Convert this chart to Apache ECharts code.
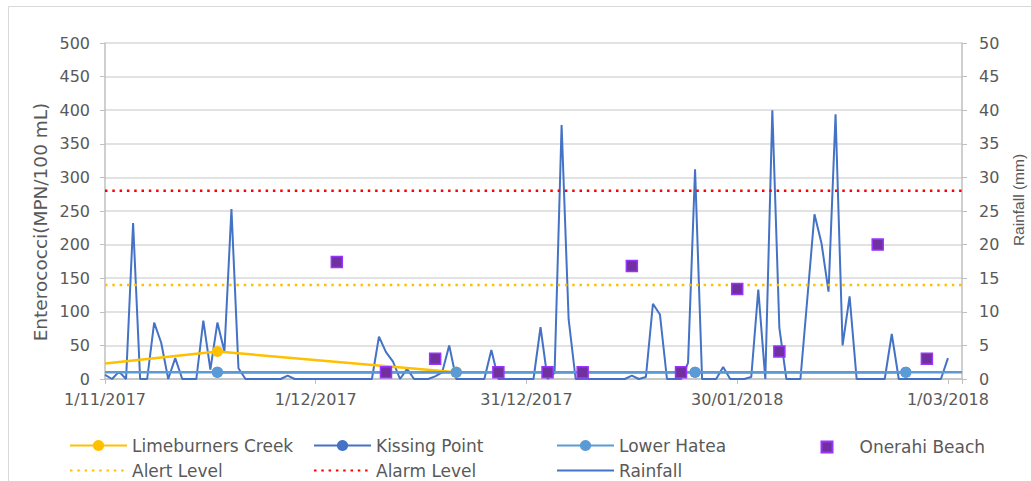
<!DOCTYPE html>
<html>
<head>
<meta charset="utf-8">
<script src="https://cdn.jsdelivr.net/npm/echarts@6/dist/echarts.min.js"></script>
<style>
html,body{margin:0;padding:0;background:#fff;}
#chart{width:1031px;height:481px;}
</style>
</head>
<body>
<div id="chart"></div>
<script>
// ---- data ----
// x values are days since 1/11/2017
const xTickLabels = ['1/11/2017', '1/12/2017', '31/12/2017', '30/01/2018', '1/03/2018'];
const rainfall = [
  0.6, 0, 1.1, 0, 23.2, 0, 0, 8.4, 5.4, 0,
  3.1, 0, 0, 0, 8.7, 1.4, 8.4, 4.1, 25.3, 1.6,
  0, 0, 0, 0, 0, 0, 0.5, 0, 0, 0,
  0, 0, 0, 0, 0, 0, 0, 0, 0, 6.3,
  4.0, 2.6, 0, 1.5, 0, 0, 0, 0.4, 1.0, 5.0,
  0, 0, 0, 0, 0, 4.3, 0, 0, 0, 0,
  0, 0, 7.7, 0, 0.9, 37.8, 8.9, 0, 0, 0,
  0, 0, 0, 0, 0, 0.5, 0, 0.3, 11.2, 9.6,
  0, 0, 0, 2.4, 31.2, 0, 0, 0, 1.8, 0,
  0, 0, 0.3, 13.3, 0, 40.0, 7.6, 0, 0, 0,
  12.2, 24.5, 20.2, 13.0, 39.4, 5.0, 12.3, 0, 0, 0,
  0, 0, 6.7, 0, 0, 0, 0, 0, 0, 0,
  3.1
];
const limeburnersDays = [0, 16, 50];
const limeburnersVals = [23, 41, 10];
const kissingDays = [16, 50, 84, 114];
const kissingVals = [10, 10, 10, 10];
const lowerHateaDays = [0, 16, 50, 84, 114, 122];
const lowerHateaVals = [10, 10, 10, 10, 10, 10];
const onerahiDays = [33, 40, 47, 56, 63, 68, 75, 82, 90, 96, 110, 117];
const onerahiVals = [174, 10, 30, 10, 10, 10, 168, 10, 134, 41, 200, 30];
const alertLevel = 140;
const alarmLevel = 280;
const xMax = 122;
const leftTitle = 'Enterococci(MPN/100 mL)';
const rightTitle = 'Rainfall (mm)';

// ---- build ----
const FONT = 'DejaVu Sans';
const GREY = '#595959';
const zip = (xs, ys) => xs.map((x, i) => [x, ys[i]]);
const rainData = rainfall.map((v, i) => [i, v]);
const hideEnds = (arr, lastIdx) => arr.map((p, i) => (i === 0 || i === lastIdx) ? {value: p, symbolSize: 0} : p);
const limeData = zip(limeburnersDays, limeburnersVals).map((p, i) => i === 0 ? {value: p, symbolSize: 0} : p);
const lowerData = hideEnds(zip(lowerHateaDays, lowerHateaVals), lowerHateaDays.length - 1);

const legendBase = {
  padding: 0, itemWidth: 57, itemHeight: 14, selectedMode: false,
  textStyle: {fontFamily: FONT, fontSize: 17, color: GREY}
};
const noSym = {color: 'rgba(0,0,0,0)', borderWidth: 0};
const colX = [69, 313, 556, 820.5];
const rowY = [437, 462];

const chart = echarts.init(document.getElementById('chart'), null, {renderer: 'svg'});
chart.setOption({
  animation: false,
  backgroundColor: '#fff',
  graphic: [{
    type: 'rect', shape: {x: 8.5, y: 6.5, width: 1100, height: 600},
    style: {fill: 'none', stroke: '#d9d9d9', lineWidth: 1}, silent: true, z: -1
  }, {
    type: 'text', x: 40, y: 222, rotation: Math.PI / 2, silent: true,
    style: {text: leftTitle, fontFamily: FONT, fontSize: 18.5, fill: GREY, align: 'center', verticalAlign: 'middle'}
  }, {
    type: 'text', x: 1018.5, y: 200, rotation: Math.PI / 2, silent: true,
    style: {text: rightTitle, fontFamily: 'Liberation Sans', fontSize: 15.5, fill: GREY, align: 'center', verticalAlign: 'middle'}
  }],
  grid: {left: 105, right: 69, top: 43, bottom: 102, containLabel: false},
  legend: [
    Object.assign({}, legendBase, {left: colX[0], top: rowY[0], data: ['Limeburners Creek']}),
    Object.assign({}, legendBase, {left: colX[1], top: rowY[0], data: ['Kissing Point']}),
    Object.assign({}, legendBase, {left: colX[2], top: rowY[0], data: ['Lower Hatea']}),
    Object.assign({}, legendBase, {
      left: colX[3], top: rowY[0] + 1.5, itemWidth: 11, itemHeight: 11,
      textStyle: {fontFamily: FONT, fontSize: 17, color: GREY, padding: [0, 0, 0, 22]},
      data: [{name: 'Onerahi Beach', icon: 'rect'}]
    }),
    Object.assign({}, legendBase, {left: colX[0], top: rowY[1], itemStyle: noSym, data: ['Alert Level']}),
    Object.assign({}, legendBase, {left: colX[1], top: rowY[1], itemStyle: noSym, data: ['Alarm Level']}),
    Object.assign({}, legendBase, {left: colX[2], top: rowY[1], itemStyle: noSym, data: ['Rainfall']})
  ],
  xAxis: {
    type: 'value', min: 0, max: xMax, interval: 30,
    axisLine: {show: true, onZero: false, lineStyle: {color: '#bfbfbf', width: 1.5}},
    axisTick: {show: true, length: 5, lineStyle: {color: '#bfbfbf', width: 1}},
    splitLine: {show: false},
    axisLabel: {
      margin: 12, fontFamily: FONT, fontSize: 16, color: GREY,
      formatter: v => (v % 30 === 0 && xTickLabels[v / 30] !== undefined) ? xTickLabels[v / 30] : ''
    }
  },
  yAxis: [{
    type: 'value', min: 0, max: 500, interval: 50, position: 'left',
    axisLine: {show: true, lineStyle: {color: '#bfbfbf', width: 1.5}},
    axisTick: {show: true, length: 5, lineStyle: {color: '#bfbfbf'}},
    splitLine: {show: true, lineStyle: {color: '#d9d9d9', width: 1.5}},
    axisLabel: {margin: 15, fontFamily: FONT, fontSize: 16, color: GREY}
  }, {
    type: 'value', min: 0, max: 50, interval: 5, position: 'right',
    axisLine: {show: true, lineStyle: {color: '#bfbfbf', width: 1.5}},
    axisTick: {show: true, length: 5, lineStyle: {color: '#bfbfbf'}},
    splitLine: {show: false},
    axisLabel: {margin: 17, fontFamily: FONT, fontSize: 16, color: GREY}
  }],
  series: [
    {
      name: 'Rainfall', type: 'line', yAxisIndex: 1, data: rainData, symbol: 'none', z: 1,
      lineStyle: {color: '#4472C4', width: 2}, itemStyle: {color: '#4472C4'}
    },
    {
      name: 'Alert Level', type: 'line', data: [[0, alertLevel], [xMax, alertLevel]], symbol: 'none', z: 2,
      lineStyle: {color: '#FFC000', width: 2.5, type: [2.5, 4.8]}, itemStyle: {color: '#FFC000'}
    },
    {
      name: 'Alarm Level', type: 'line', data: [[0, alarmLevel], [xMax, alarmLevel]], symbol: 'none', z: 2,
      lineStyle: {color: '#FF0000', width: 2.5, type: [2.5, 4.8]}, itemStyle: {color: '#FF0000'}
    },
    {
      name: 'Kissing Point', type: 'line', data: zip(kissingDays, kissingVals), symbol: 'circle', symbolSize: 11, z: 3,
      lineStyle: {color: '#4472C4', width: 2.5}, itemStyle: {color: '#4472C4'}
    },
    {
      name: 'Limeburners Creek', type: 'line', data: limeData, symbol: 'circle', symbolSize: 11, z: 3,
      lineStyle: {color: '#FFC000', width: 2.5}, itemStyle: {color: '#FFC000'}
    },
    {
      name: 'Lower Hatea', type: 'line', data: lowerData, symbol: 'circle', symbolSize: 11, z: 4,
      lineStyle: {color: '#5B9BD5', width: 2.5}, itemStyle: {color: '#5B9BD5'}
    },
    {
      name: 'Onerahi Beach', type: 'scatter', data: zip(onerahiDays, onerahiVals), symbol: 'rect', symbolSize: 11, z: 5,
      itemStyle: {color: '#7030A0', borderColor: '#9933FF', borderWidth: 1.5, opacity: 1}
    }
  ]
});
</script>
</body>
</html>
